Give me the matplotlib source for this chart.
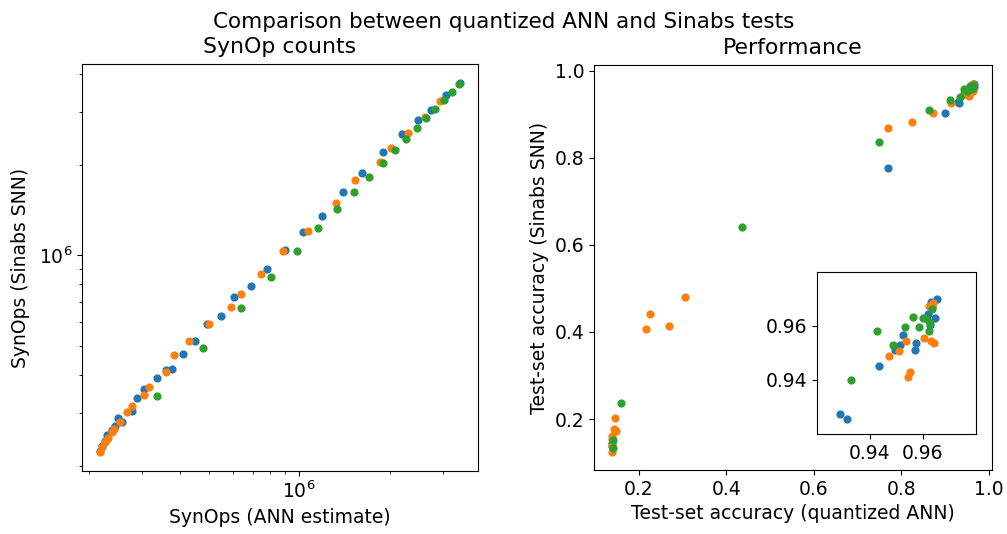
import matplotlib
matplotlib.use("Agg")
import matplotlib.pyplot as plt
from matplotlib.ticker import NullFormatter

# SynOp counts: ANN estimate vs Sinabs SNN (three model families)
synops_ann_a = [3.42e6, 3.07e6, 2.754e6, 2.486e6, 2.205e6, 1.90e6, 1.618e6, 1.394e6, 1.193e6,
                1.028e6, 8.94e5, 7.80e5, 6.90e5, 6.06e5, 5.50e5, 4.92e5, 4.50e5, 4.115e5,
                3.78e5, 3.61e5, 3.36e5, 3.04e5, 2.88e5, 2.77e5, 2.58e5, 2.50e5, 2.435e5,
                2.375e5, 2.30e5, 2.256e5, 2.21e5, 2.177e5]
synops_snn_a = [3.75e6, 3.40e6, 3.03e6, 2.81e6, 2.525e6, 2.21e6, 1.876e6, 1.618e6, 1.352e6,
                1.199e6, 1.044e6, 9.00e5, 7.92e5, 7.24e5, 6.26e5, 5.89e5, 5.18e5, 4.71e5,
                4.19e5, 4.16e5, 3.92e5, 3.58e5, 3.36e5, 3.04e5, 2.80e5, 2.88e5, 2.71e5,
                2.62e5, 2.53e5, 2.416e5, 2.326e5, 2.239e5]

synops_ann_b = [2.93e6, 2.617e6, 2.297e6, 2.016e6, 1.853e6, 1.529e6, 1.322e6, 1.069e6, 8.82e5,
                7.45e5, 6.41e5, 5.92e5, 5.025e5, 4.287e5, 3.83e5, 3.61e5, 3.16e5, 3.05e5,
                2.78e5, 2.665e5, 2.525e5, 2.424e5, 2.375e5, 2.315e5, 2.256e5, 2.21e5, 2.172e5]
synops_snn_b = [3.245e6, 2.884e6, 2.557e6, 2.274e6, 2.047e6, 1.778e6, 1.487e6, 1.202e6, 1.034e6,
                8.64e5, 7.45e5, 6.73e5, 5.89e5, 5.17e5, 4.67e5, 4.10e5, 3.65e5, 3.42e5,
                3.155e5, 3.005e5, 2.797e5, 2.644e5, 2.577e5, 2.466e5, 2.386e5, 2.297e5, 2.21e5]

synops_ann_c = [3.40e6, 3.228e6, 3.035e6, 2.84e6, 2.65e6, 2.461e6, 2.268e6, 2.079e6, 1.896e6,
                1.707e6, 1.521e6, 1.339e6, 1.157e6, 9.82e5, 8.07e5, 6.39e5, 4.786e5, 3.37e5]
synops_snn_c = [3.70e6, 3.485e6, 3.27e6, 3.066e6, 2.855e6, 2.65e6, 2.436e6, 2.234e6, 2.026e6,
                1.824e6, 1.626e6, 1.427e6, 1.233e6, 1.036e6, 8.49e5, 6.66e5, 4.936e5, 3.415e5]

# Test-set accuracy: quantized ANN vs Sinabs SNN
acc_ann_a = [0.139, 0.139, 0.7684, 0.8994, 0.9288, 0.9313, 0.9434, 0.9496, 0.9514, 0.9525,
             0.9569, 0.9574, 0.9619, 0.9630, 0.9635, 0.9653, 0.9647, 0.9625]
acc_snn_a = [0.145, 0.138, 0.7773, 0.9022, 0.9274, 0.9254, 0.9451, 0.9512, 0.9531, 0.9565,
             0.9510, 0.9537, 0.9646, 0.9689, 0.9670, 0.9701, 0.9631, 0.9605]

acc_ann_b = [0.1390, 0.1395, 0.1390, 0.1390, 0.1429, 0.1482, 0.1455, 0.1451, 0.2168, 0.2251,
             0.2686, 0.3044, 0.7684, 0.8248, 0.8728, 0.9124, 0.9473, 0.9508, 0.9537, 0.9545,
             0.9552, 0.9605, 0.9629, 0.9640, 0.9621, 0.9638]
acc_snn_b = [0.1254, 0.1380, 0.1540, 0.1620, 0.1772, 0.1733, 0.1750, 0.2023, 0.4072, 0.4422,
             0.4132, 0.4810, 0.8679, 0.8816, 0.9022, 0.9259, 0.9489, 0.9507, 0.9544, 0.9410,
             0.9430, 0.9554, 0.9543, 0.9535, 0.9674, 0.9686]

acc_ann_c = [0.1581, 0.1405, 0.1405, 0.4347, 0.7478, 0.8621, 0.9108, 0.9327, 0.9425, 0.9487,
             0.9533, 0.9561, 0.9584, 0.9600, 0.9615, 0.9621, 0.9625, 0.9634]
acc_snn_c = [0.2358, 0.1520, 0.1337, 0.6402, 0.8352, 0.9091, 0.9334, 0.9400, 0.9580, 0.9530,
             0.9595, 0.9635, 0.9595, 0.9630, 0.9627, 0.9580, 0.9611, 0.9664]

synops = [(synops_ann_a, synops_snn_a), (synops_ann_b, synops_snn_b), (synops_ann_c, synops_snn_c)]
accs = [(acc_ann_a, acc_snn_a), (acc_ann_b, acc_snn_b), (acc_ann_c, acc_snn_c)]

fig = plt.figure(figsize=(10.07, 5.34), dpi=100)
fig.suptitle("Comparison between quantized ANN and Sinabs tests", fontsize=15.5, y=0.977)

ax1 = fig.add_axes([0.0814, 0.118, 0.393, 0.762])
for x, y in synops:
    ax1.scatter(x, y, s=24)
ax1.set_xscale("log")
ax1.set_yscale("log")
ax1.xaxis.set_minor_formatter(NullFormatter())
ax1.yaxis.set_minor_formatter(NullFormatter())
ax1.set_title("SynOp counts", fontsize=15.8, pad=8)
ax1.set_xlabel("SynOps (ANN estimate)", fontsize=13.5)
ax1.set_ylabel("SynOps (Sinabs SNN)", fontsize=13.5, labelpad=6)
ax1.tick_params(labelsize=13.5)

ax2 = fig.add_axes([0.590, 0.120, 0.395, 0.758])
for x, y in accs:
    ax2.scatter(x, y, s=24)
ax2.set_title("Performance", fontsize=15.8, pad=8)
ax2.set_xlabel("Test-set accuracy (quantized ANN)", fontsize=13.5)
ax2.set_ylabel("Test-set accuracy (Sinabs SNN)", fontsize=13.5)
ax2.tick_params(labelsize=13.5)

ins = ax2.inset_axes([0.56, 0.089, 0.40, 0.40])
for x, y in accs:
    ins.scatter(x, y, s=24)
ins.set_xlim(0.92, 0.98)
ins.set_ylim(0.92, 0.98)
ins.set_xticks([0.94, 0.96])
ins.set_yticks([0.94, 0.96])
ins.tick_params(labelsize=13.5)

fig.savefig("out.png", dpi=100)
